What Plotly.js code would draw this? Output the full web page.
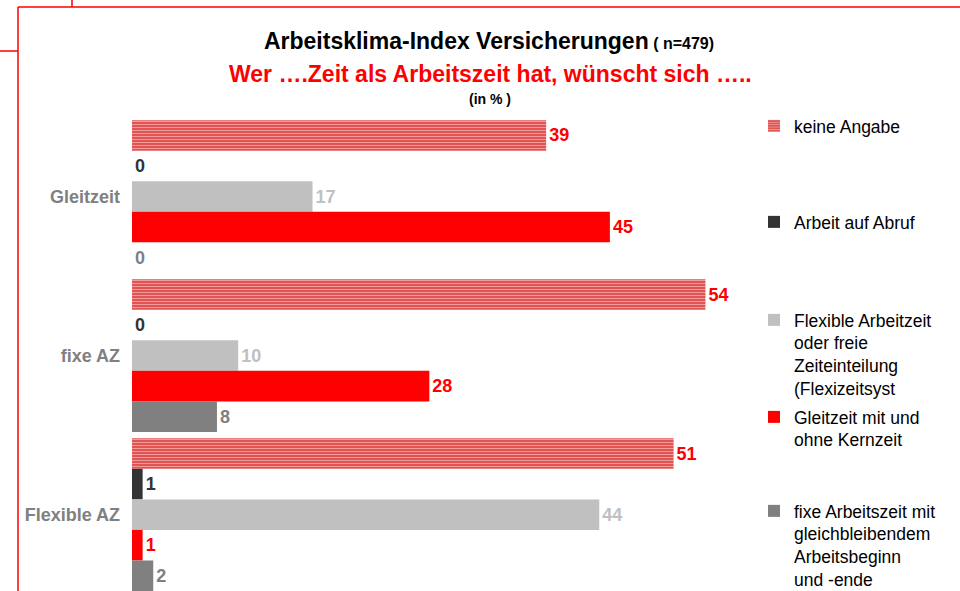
<!DOCTYPE html>
<html>
<head>
<meta charset="utf-8">
<script src="https://cdn.plot.ly/plotly-3.0.1.min.js"></script>
<style>html,body{margin:0;padding:0;background:#fff;}#chart{width:960px;height:591px;}</style>
</head>
<body>
<div id="chart"></div>
<script>
// Categories (y axis) and series values (in %)
var categories = ['Gleitzeit', 'fixe AZ', 'Flexible AZ'];
var keineAngabe = [39, 54, 51];
var arbeitAufAbruf = [0, 0, 1];
var flexibleArbeitszeit = [17, 10, 44];
var gleitzeitMitOhneKernzeit = [45, 28, 1];
var fixeArbeitszeit = [0, 8, 2];

var seriesNames = [
  'keine Angabe',
  'Arbeit auf Abruf',
  'Flexible Arbeitzeit<br>oder freie<br>Zeiteinteilung<br>(Flexizeitsyst',
  'Gleitzeit mit und<br>ohne Kernzeit',
  'fixe Arbeitszeit mit<br>gleichbleibendem<br>Arbeitsbeginn<br>und -ende'
];

var FONT = 'Liberation Sans, Arial, Helvetica, sans-serif';

function barTrace(vals, name, color, textColor, legendId, extra) {
  var t = {
    type: 'bar',
    orientation: 'h',
    y: categories,
    x: vals,
    name: name,
    text: vals.map(String),
    textposition: 'outside',
    cliponaxis: false,
    constraintext: 'none',
    textfont: {family: FONT, size: 18, color: textColor, weight: 'bold'},
    marker: {color: color, line: {width: 0}},
    legend: legendId,
    hoverinfo: 'x+name'
  };
  if (extra) { for (var k in extra) t[k] = extra[k]; }
  return t;
}

var traces = [
  barTrace(keineAngabe, seriesNames[0], '#E25858', '#FF0000', 'legend', {
    marker: {color: '#E25858', line: {width: 0},
      pattern: {shape: '-', fgcolor: '#F29A9A', bgcolor: '#E05454', size: 3, solidity: 0.35}}
  }),
  barTrace(arbeitAufAbruf, seriesNames[1], '#333333', '#333333', 'legend2'),
  barTrace(flexibleArbeitszeit, seriesNames[2], '#C0C0C0', '#C0C0C0', 'legend3'),
  barTrace(gleitzeitMitOhneKernzeit, seriesNames[3], '#FF0000', '#FF0000', 'legend4'),
  barTrace(fixeArbeitszeit, seriesNames[4], '#808080', '#808080', 'legend5')
];

// plot area geometry (pixels) used only for converting to paper coords
var L = 132, W = 600, T = 117, H = 474, FW = 960, FH = 591;
function px(x) { return (x - L) / W; }
function py(y) { return (FH - y) / H; }

function legendAt(topPx) {
  return {
    x: 754 / FW, xref: 'container', xanchor: 'left',
    y: 1 - topPx / FH, yref: 'container', yanchor: 'top',
    valign: 'top', bgcolor: 'rgba(0,0,0,0)', borderwidth: 0,
    font: {family: FONT, size: 17.5, color: '#000000'},
    itemclick: false, itemdoubleclick: false
  };
}

var redLine = {color: '#FF0000', width: 1.5};

var layout = {
  width: 960,
  height: 591,
  paper_bgcolor: '#FFFFFF',
  plot_bgcolor: '#FFFFFF',
  margin: {l: L, r: FW - L - W, t: T, b: 0, pad: 0},
  font: {family: FONT},
  barmode: 'group',
  bargap: 0.04,
  bargroupgap: 0,
  title: {
    text: '<b>Arbeitsklima-Index Versicherungen</b><span style="font-size:16px"><b> ( n=479)</b></span>',
    font: {family: FONT, size: 23, color: '#000000'},
    x: 489 / FW, xref: 'container', xanchor: 'center',
    y: 1 - 41 / FH, yref: 'container', yanchor: 'middle'
  },
  xaxis: {
    range: [0, 56.5],
    visible: false,
    showgrid: false,
    zeroline: false,
    fixedrange: true
  },
  yaxis: {
    type: 'category',
    range: [2.48, -0.5],
    showgrid: false,
    zeroline: false,
    showline: false,
    ticks: '',
    ticklabelstandoff: 11,
    tickfont: {family: FONT, size: 18, color: '#808080', weight: 'bold'},
    fixedrange: true
  },
  showlegend: true,
  legend: legendAt(108),
  legend2: legendAt(204),
  legend3: legendAt(302),
  legend4: legendAt(399),
  legend5: legendAt(493),
  annotations: [
    {text: '<b>Wer \u2026.Zeit als Arbeitszeit hat, w\u00fcnscht sich \u2026..</b>',
     xref: 'paper', yref: 'paper', x: px(490), y: py(74), xanchor: 'center', yanchor: 'middle',
     showarrow: false, font: {family: FONT, size: 23, color: '#FF0000'}},
    {text: '<b>(in % )</b>',
     xref: 'paper', yref: 'paper', x: px(490), y: py(99), xanchor: 'center', yanchor: 'middle',
     showarrow: false, font: {family: FONT, size: 14, color: '#000000'}}
  ],
  shapes: [
    {type: 'line', xref: 'paper', yref: 'paper', x0: px(18), x1: px(18), y0: py(7), y1: py(600), line: redLine},
    {type: 'line', xref: 'paper', yref: 'paper', x0: px(18), x1: px(970), y0: py(7), y1: py(7), line: redLine},
    {type: 'line', xref: 'paper', yref: 'paper', x0: px(72), x1: px(72), y0: py(-2), y1: py(7), line: redLine},
    {type: 'line', xref: 'paper', yref: 'paper', x0: px(-2), x1: px(18), y0: py(51), y1: py(51), line: redLine}
  ]
};

Plotly.newPlot('chart', traces, layout, {displayModeBar: false, staticPlot: false, responsive: false});
</script>
</body>
</html>
